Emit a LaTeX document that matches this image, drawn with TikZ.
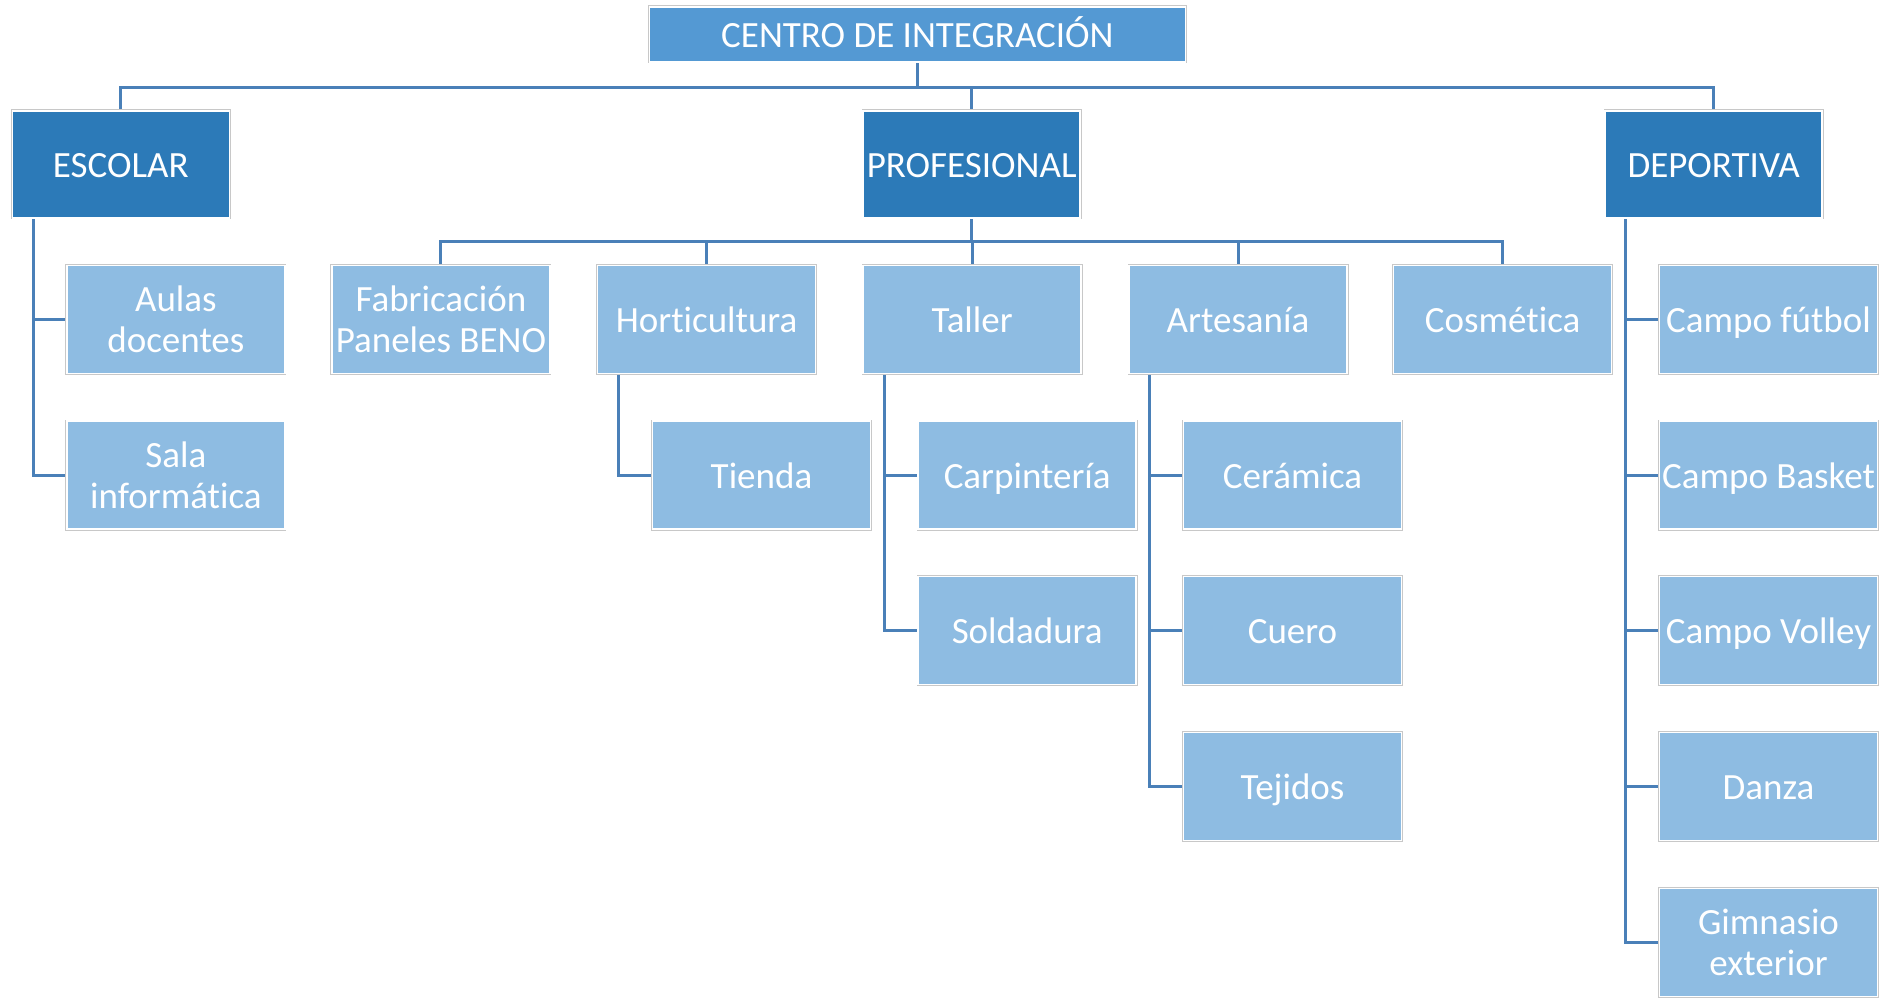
\documentclass[tikz,border=0pt]{standalone}
\usepackage{fontspec}
\setmainfont[Ligatures=NoCommon]{Carlito}
\usetikzlibrary{backgrounds,calc}
\definecolor{cdark}{HTML}{2C7AB8}
\definecolor{ctop}{HTML}{5499D3}
\definecolor{clight}{HTML}{8EBCE2}
\definecolor{cline}{HTML}{4A80B8}
\definecolor{cedge}{HTML}{C8C8C8}
\tikzset{
  box/.style={rectangle, inner sep=0pt, align=center, text=white,
    font=\fontsize{37}{41}\selectfont,
    preaction={draw=cedge, line width=3pt},
    draw=white, line width=1.5pt},
  oneline/.style={text height=26pt, text depth=0pt},
  topbox/.style={box, oneline, fill=ctop, minimum width=536pt, minimum height=55pt},
  mainbox/.style={box, oneline, fill=cdark, minimum width=217pt, minimum height=107pt},
  leaf/.style={box, fill=clight, minimum width=218pt, minimum height=108pt},
  leafone/.style={leaf, oneline},
  conn/.style={draw=cline, line width=3pt}
}
\begin{document}
\begin{tikzpicture}[x=1pt,y=-1pt]
\useasboundingbox (0,0) rectangle (1894,997);
\node[topbox] (centro) at (917.4,34.4) {CENTRO DE INTEGRACIÓN};
\node[mainbox] (escolar) at (120.8,164.3) {ESCOLAR};
\node[mainbox] (profesional) at (971.7,164.3) {PROFESIONAL};
\node[mainbox] (deportiva) at (1713.6,164.3) {DEPORTIVA};
% escolar children
\node[leaf] (aulas) at (175.9,319.5) {Aulas\\docentes};
\node[leaf] (sala) at (175.9,475) {Sala\\informática};
% profesional children
\node[leaf] (fabricacion) at (440.9,319.5) {Fabricación\\Paneles BENO};
\node[leafone] (horticultura) at (706.6,319.5) {Horticultura};
\node[leafone] (taller) at (972.2,319.5) {Taller};
\node[leafone] (artesania) at (1238,319.5) {Artesanía};
\node[leafone] (cosmetica) at (1502.6,319.5) {Cosmética};
\node[leafone] (tienda) at (761.5,475) {Tienda};
\node[leafone] (carpinteria) at (1027.2,475) {Carpintería};
\node[leafone] (soldadura) at (1027.2,630.7) {Soldadura};
\node[leafone] (ceramica) at (1292.5,475) {Cerámica};
\node[leafone] (cuero) at (1292.5,630.7) {Cuero};
\node[leafone] (tejidos) at (1292.5,786.5) {Tejidos};
% deportiva children
\node[leafone] (futbol) at (1768.5,319.5) {Campo fútbol};
\node[leafone] (basket) at (1768.5,475) {Campo Basket};
\node[leafone] (volley) at (1768.5,630.7) {Campo Volley};
\node[leafone] (danza) at (1768.5,786.5) {Danza};
\node[leaf] (gimnasio) at (1768.5,942.6) {Gimnasio\\exterior};
\coordinate (bus1) at (0,87);
\coordinate (bus2) at (0,241.6);
\path (aulas.west) ++(-33,0) coordinate (escT);
\path (tienda.west) ++(-33,0) coordinate (horT);
\path (carpinteria.west) ++(-33,0) coordinate (talT);
\path (ceramica.west) ++(-33,0) coordinate (artT);
\path (futbol.west) ++(-33,0) coordinate (depT);
\begin{scope}[on background layer]
\draw[conn] (centro.south) -- (centro.south |- bus1);
\draw[conn] (escolar.north) -- (escolar.north |- bus1) -- (deportiva.north |- bus1) -- (deportiva.north);
\draw[conn] (profesional.north) -- (profesional.north |- bus1);
\draw[conn] (profesional.south) -- (profesional.south |- bus2);
\draw[conn] (fabricacion.north) -- (fabricacion.north |- bus2) -- (cosmetica.north |- bus2) -- (cosmetica.north);
\draw[conn] (horticultura.north) -- (horticultura.north |- bus2);
\draw[conn] (taller.north) -- (taller.north |- bus2);
\draw[conn] (artesania.north) -- (artesania.north |- bus2);
% elbows
\draw[conn] (escT |- escolar.south) |- (sala.west);
\draw[conn] (escT |- aulas.west) -- (aulas.west);
\draw[conn] (horT |- horticultura.south) |- (tienda.west);
\draw[conn] (talT |- taller.south) |- (soldadura.west);
\draw[conn] (talT |- carpinteria.west) -- (carpinteria.west);
\draw[conn] (artT |- artesania.south) |- (tejidos.west);
\draw[conn] (artT |- ceramica.west) -- (ceramica.west);
\draw[conn] (artT |- cuero.west) -- (cuero.west);
\draw[conn] (depT |- deportiva.south) |- (gimnasio.west);
\draw[conn] (depT |- futbol.west) -- (futbol.west);
\draw[conn] (depT |- basket.west) -- (basket.west);
\draw[conn] (depT |- volley.west) -- (volley.west);
\draw[conn] (depT |- danza.west) -- (danza.west);
\end{scope}
\end{tikzpicture}
\end{document}
